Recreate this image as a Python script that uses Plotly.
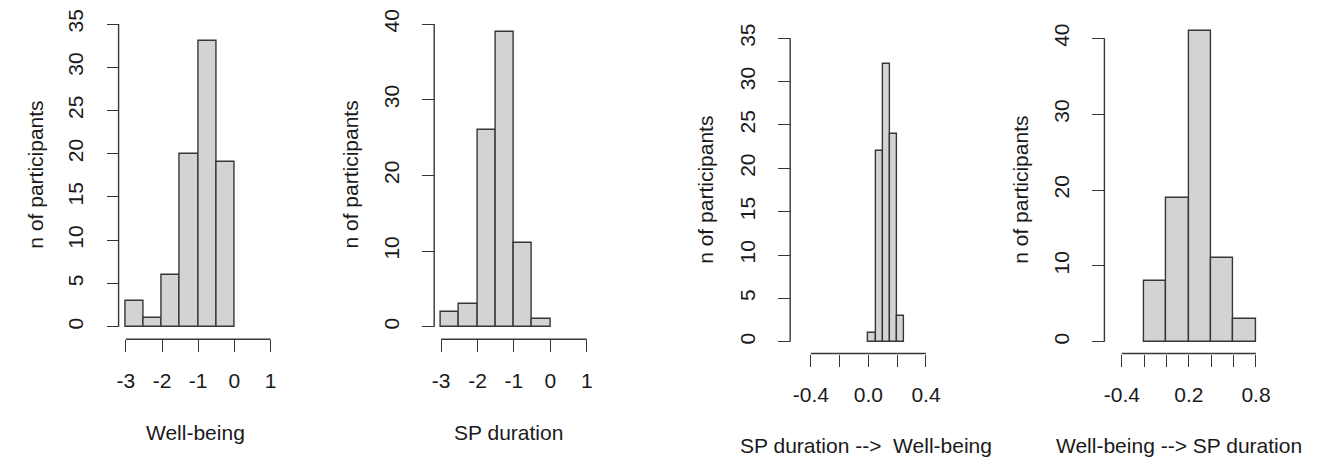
import plotly.graph_objects as go

# Bin edges and participant counts for each histogram
wb_breaks = [-3, -2.5, -2, -1.5, -1, -0.5, 0]
wb_counts = [3, 1, 6, 20, 33, 19]

sp_breaks = [-3, -2.5, -2, -1.5, -1, -0.5, 0]
sp_counts = [2, 3, 26, 39, 11, 1]

sp_to_wb_breaks = [0.0, 0.05, 0.10, 0.15, 0.20, 0.25]
sp_to_wb_counts = [1, 22, 32, 24, 3]

wb_to_sp_breaks = [-0.2, 0.0, 0.2, 0.4, 0.6, 0.8]
wb_to_sp_counts = [8, 19, 41, 11, 3]

# Tick values and labels
x_ticks_wide = [-3, -2, -1, 0, 1]
x_labels_wide = ["-3", "-2", "-1", "0", "1"]
x_ticks_narrow = [-0.4, -0.2, 0.0, 0.2, 0.4]
x_labels_narrow = ["-0.4", "", "0.0", "", "0.4"]
x_ticks_path = [-0.4, -0.2, 0.0, 0.2, 0.4, 0.6, 0.8]
x_labels_path = ["-0.4", "", "", "0.2", "", "", "0.8"]
y_ticks_35 = [0, 5, 10, 15, 20, 25, 30, 35]
y_ticks_40 = [0, 10, 20, 30, 40]

x_titles = ["Well-being", "SP duration",
            "SP duration -->  Well-being", "Well-being --> SP duration"]
y_title = "n of participants"

W, H = 1325, 458
FONT = "Liberation Sans, Arial, Helvetica, sans-serif"
TEXT = "#1a1a1a"
LINE = "#363636"
FILL = "#d3d3d3"
LW = 1.4
FS = 21

panels = [
    dict(breaks=wb_breaks, counts=wb_counts, xt=x_ticks_wide, xl=x_labels_wide, yt=y_ticks_35,
         xpx=(115.7, 262.7), ypx=(326.7, 24.0), yline=108.3, xline=339.3,
         xtitle=(186, 432), ytitle=(23, 175)),
    dict(breaks=sp_breaks, counts=sp_counts, xt=x_ticks_wide, xl=x_labels_wide, yt=y_ticks_40,
         xpx=(436.0, 584.0), ypx=(326.7, 24.0), yline=429.0, xline=339.3,
         xtitle=(505, 432), ytitle=(343, 175)),
    dict(breaks=sp_to_wb_breaks, counts=sp_to_wb_counts, xt=x_ticks_narrow, xl=x_labels_narrow,
         yt=y_ticks_35, xpx=(811.7, 928.7), ypx=(341.7, 38.3), yline=790.7, xline=353.5,
         xtitle=(868, 445), ytitle=(705, 190)),
    dict(breaks=wb_to_sp_breaks, counts=wb_to_sp_counts, xt=x_ticks_path, xl=x_labels_path,
         yt=y_ticks_40, xpx=(1127.7, 1264.0), ypx=(341.7, 38.3), yline=1110.0, xline=353.5,
         xtitle=(1186, 445), ytitle=(1025, 190)),
]

fig = go.Figure()
shapes = []
annotations = []
layout_axes = {}

for i, p in enumerate(panels, start=1):
    sfx = "" if i == 1 else str(i)
    br, ct = p["breaks"], p["counts"]
    centers = [(a + b) / 2 for a, b in zip(br[:-1], br[1:])]
    widths = [b - a for a, b in zip(br[:-1], br[1:])]
    fig.add_trace(go.Bar(
        x=centers, y=ct, width=widths,
        marker=dict(color=FILL, line=dict(color=LINE, width=LW)),
        xaxis="x" + sfx, yaxis="y" + sfx, showlegend=False, hoverinfo="x+y",
    ))

    # x scale: pixel positions of the first/last tick, padded a little
    v0, v1 = p["xt"][0], p["xt"][-1]
    px0, px1 = p["xpx"]
    s = (px1 - px0) / (v1 - v0)
    pad = 0.05 * (px1 - px0)
    xdom = [(px0 - pad) / W, (px1 + pad) / W]
    xrng = [v0 - pad / s, v1 + pad / s]

    # y scale: pixel positions of 0 and of the top tick
    t0, t1 = p["yt"][0], p["yt"][-1]
    py0, py1 = p["ypx"]
    sy = (py0 - py1) / (t1 - t0)
    pad_lo = 0.04 * (py0 - py1)
    pad_hi = min(0.10 * (py0 - py1), py1 - 2)
    ydom = [1 - (py0 + pad_lo) / H, 1 - (py1 - pad_hi) / H]
    yrng = [t0 - pad_lo / sy, t1 + pad_hi / sy]

    axis_common = dict(showgrid=False, zeroline=False, showline=False,
                       ticks="outside", ticklen=12, tickwidth=LW, tickcolor=LINE,
                       tickfont=dict(family=FONT, size=FS, color=TEXT),
                       fixedrange=True, anchor="free")
    layout_axes["xaxis" + sfx] = dict(
        axis_common, domain=xdom, range=xrng, position=1 - p["xline"] / H,
        tickmode="array", tickvals=p["xt"], ticktext=p["xl"], side="bottom",
        ticklabelstandoff=10)
    layout_axes["yaxis" + sfx] = dict(
        axis_common, domain=ydom, range=yrng, position=p["yline"] / W,
        tickmode="array", tickvals=p["yt"], ticktext=[str(v) for v in p["yt"]],
        tickangle=-90, side="left", ticklabelstandoff=15)

    # axis lines spanning only the tick range
    shapes.append(dict(type="line", xref="x" + sfx, yref="paper",
                       x0=v0, x1=v1, y0=1 - p["xline"] / H, y1=1 - p["xline"] / H,
                       line=dict(color=LINE, width=LW)))
    shapes.append(dict(type="line", xref="paper", yref="y" + sfx,
                       x0=p["yline"] / W, x1=p["yline"] / W, y0=t0, y1=t1,
                       line=dict(color=LINE, width=LW)))

    annotations.append(dict(text=x_titles[i - 1], xref="paper", yref="paper",
                            x=p["xtitle"][0] / W, y=1 - p["xtitle"][1] / H,
                            xanchor="center", yanchor="middle", showarrow=False,
                            font=dict(family=FONT, size=FS, color=TEXT)))
    annotations.append(dict(text=y_title, xref="paper", yref="paper",
                            x=p["ytitle"][0] / W, y=1 - p["ytitle"][1] / H,
                            xanchor="center", yanchor="middle", showarrow=False,
                            textangle=-90,
                            font=dict(family=FONT, size=FS, color=TEXT)))

fig.update_layout(
    width=W, height=H, margin=dict(l=0, r=0, t=0, b=0),
    paper_bgcolor="white", plot_bgcolor="white",
    shapes=shapes, annotations=annotations, bargap=0,
    **layout_axes,
)

fig.write_html("out.html")
